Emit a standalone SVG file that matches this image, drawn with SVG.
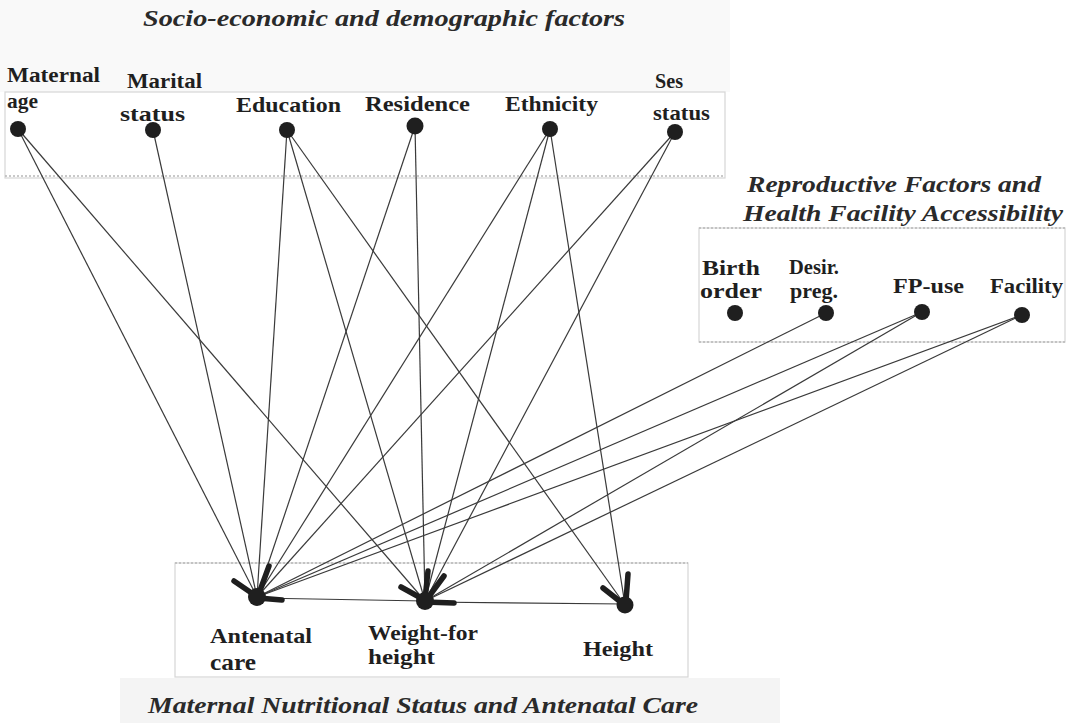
<svg xmlns="http://www.w3.org/2000/svg" width="1070" height="723" viewBox="0 0 1070 723">
<style>
.bg{fill:#ffffff}
.box{fill:#ffffff;stroke:#d6d6d6;stroke-width:1.2}
.dot{stroke:#b8b8b8;stroke-width:1.5;stroke-dasharray:2 2;fill:none}
.edge{stroke:#3a3a3a;stroke-width:1.2;fill:none}
.head{stroke:#1e1e1e;stroke-width:5.5;stroke-linecap:round;fill:none}
.node{fill:#1f1f1f}
.lbl{font-family:"Liberation Serif","Times New Roman",serif;font-weight:bold;fill:#1f1f1f}
.ttl{font-family:"Liberation Serif","Times New Roman",serif;font-weight:bold;font-style:italic;fill:#2a2a2a}
</style>
<rect class="bg" x="0" y="0" width="1070" height="723"/>
<rect x="0" y="0" width="730" height="92" fill="#f9f9f9"/>
<rect x="120" y="678" width="660" height="45" fill="#f4f4f4"/>

<g id="group-socio">
  <rect class="box" x="5" y="92" width="720" height="86"/>
  <line class="dot" x1="5" y1="176" x2="725" y2="176"/>
  <text class="ttl" x="143" y="26" font-size="24" textLength="482" lengthAdjust="spacingAndGlyphs">Socio-economic and demographic factors</text>
</g>
<g id="group-repro">
  <rect class="box" x="699" y="228" width="366" height="114"/>
  <line class="dot" x1="699" y1="228" x2="1065" y2="228"/>
  <line class="dot" x1="699" y1="342" x2="1065" y2="342"/>
  <text class="ttl" x="747" y="192" font-size="23" textLength="294" lengthAdjust="spacingAndGlyphs">Reproductive Factors and</text>
  <text class="ttl" x="743" y="221" font-size="23" textLength="320" lengthAdjust="spacingAndGlyphs">Health Facility Accessibility</text>
</g>
<g id="group-outcome">
  <rect class="box" x="175" y="563" width="513" height="114"/>
  <line class="dot" x1="175" y1="563" x2="688" y2="563"/>
  <text class="ttl" x="148" y="713" font-size="24" textLength="550" lengthAdjust="spacingAndGlyphs">Maternal Nutritional Status and Antenatal Care</text>
</g>

<g id="connectors">
  <line class="edge" x1="18" y1="129" x2="257" y2="597"/>
  <line class="edge" x1="18" y1="129" x2="425" y2="601"/>
  <line class="edge" x1="153" y1="130" x2="257" y2="597"/>
  <line class="edge" x1="287" y1="130" x2="257" y2="597"/>
  <line class="edge" x1="287" y1="130" x2="425" y2="601"/>
  <line class="edge" x1="287" y1="130" x2="625" y2="605"/>
  <line class="edge" x1="415" y1="126" x2="257" y2="597"/>
  <line class="edge" x1="415" y1="126" x2="425" y2="601"/>
  <line class="edge" x1="550" y1="129" x2="257" y2="597"/>
  <line class="edge" x1="550" y1="129" x2="425" y2="601"/>
  <line class="edge" x1="550" y1="129" x2="625" y2="605"/>
  <line class="edge" x1="675" y1="132" x2="257" y2="597"/>
  <line class="edge" x1="675" y1="132" x2="425" y2="601"/>
  <line class="edge" x1="826" y1="313" x2="257" y2="597"/>
  <line class="edge" x1="922" y1="312" x2="257" y2="597"/>
  <line class="edge" x1="922" y1="312" x2="425" y2="601"/>
  <line class="edge" x1="1022" y1="315" x2="257" y2="597"/>
  <line class="edge" x1="1022" y1="315" x2="425" y2="601"/>
  <line class="edge" x1="625" y1="604" x2="425" y2="602"/>
  <line class="edge" x1="425" y1="601" x2="257" y2="598"/>
  <g id="arrowheads">
    <line class="head" x1="234" y1="581" x2="256" y2="596"/>
    <line class="head" x1="269" y1="566" x2="258" y2="596"/>
    <line class="head" x1="258" y1="598" x2="282" y2="600"/>
    <line class="head" x1="401" y1="587" x2="421" y2="598"/>
    <line class="head" x1="428" y1="571" x2="425" y2="599"/>
    <line class="head" x1="444" y1="576" x2="430" y2="595"/>
    <line class="head" x1="425" y1="602" x2="454" y2="603"/>
    <line class="head" x1="603" y1="588" x2="622" y2="603"/>
    <line class="head" x1="628" y1="574" x2="626" y2="601"/>
  </g>
</g>

<g id="node-maternal-age">
  <circle class="node" cx="18" cy="129" r="8"/>
  <text class="lbl" x="7" y="82" font-size="20" textLength="93" lengthAdjust="spacingAndGlyphs">Maternal</text>
  <text class="lbl" x="7" y="108" font-size="22" textLength="31" lengthAdjust="spacingAndGlyphs">age</text>
</g>
<g id="node-marital-status">
  <circle class="node" cx="153" cy="130" r="8"/>
  <text class="lbl" x="127" y="88" font-size="20" textLength="75" lengthAdjust="spacingAndGlyphs">Marital</text>
  <text class="lbl" x="120" y="121" font-size="21" textLength="65" lengthAdjust="spacingAndGlyphs">status</text>
</g>
<g id="node-education">
  <circle class="node" cx="287" cy="130" r="8"/>
  <text class="lbl" x="236" y="112" font-size="21" textLength="105" lengthAdjust="spacingAndGlyphs">Education</text>
</g>
<g id="node-residence">
  <circle class="node" cx="415" cy="126" r="8.5"/>
  <text class="lbl" x="365" y="111" font-size="21" textLength="105" lengthAdjust="spacingAndGlyphs">Residence</text>
</g>
<g id="node-ethnicity">
  <circle class="node" cx="550" cy="129" r="8"/>
  <text class="lbl" x="505" y="111" font-size="21" textLength="93" lengthAdjust="spacingAndGlyphs">Ethnicity</text>
</g>
<g id="node-ses-status">
  <circle class="node" cx="675" cy="132" r="8"/>
  <text class="lbl" x="655" y="88" font-size="21" textLength="28" lengthAdjust="spacingAndGlyphs">Ses</text>
  <text class="lbl" x="653" y="120" font-size="21" textLength="57" lengthAdjust="spacingAndGlyphs">status</text>
</g>
<g id="node-birth-order">
  <circle class="node" cx="735" cy="313" r="8"/>
  <text class="lbl" x="702" y="275" font-size="20" textLength="58" lengthAdjust="spacingAndGlyphs">Birth</text>
  <text class="lbl" x="700" y="298" font-size="21" textLength="62" lengthAdjust="spacingAndGlyphs">order</text>
</g>
<g id="node-desir-preg">
  <circle class="node" cx="826" cy="313" r="8"/>
  <text class="lbl" x="789" y="274" font-size="20" textLength="50" lengthAdjust="spacingAndGlyphs">Desir.</text>
  <text class="lbl" x="790" y="298" font-size="21" textLength="48" lengthAdjust="spacingAndGlyphs">preg.</text>
</g>
<g id="node-fp-use">
  <circle class="node" cx="922" cy="312" r="8"/>
  <text class="lbl" x="893" y="293" font-size="20" textLength="71" lengthAdjust="spacingAndGlyphs">FP-use</text>
</g>
<g id="node-facility">
  <circle class="node" cx="1022" cy="315" r="8"/>
  <text class="lbl" x="990" y="293" font-size="20" textLength="73" lengthAdjust="spacingAndGlyphs">Facility</text>
</g>
<g id="node-antenatal-care">
  <circle class="node" cx="257" cy="597" r="9"/>
  <text class="lbl" x="210" y="643" font-size="22" textLength="102" lengthAdjust="spacingAndGlyphs">Antenatal</text>
  <text class="lbl" x="210" y="670" font-size="23" textLength="46" lengthAdjust="spacingAndGlyphs">care</text>
</g>
<g id="node-weight-for-height">
  <circle class="node" cx="425" cy="601" r="9"/>
  <text class="lbl" x="368" y="640" font-size="22" textLength="110" lengthAdjust="spacingAndGlyphs">Weight-for</text>
  <text class="lbl" x="368" y="664" font-size="22" textLength="67" lengthAdjust="spacingAndGlyphs">height</text>
</g>
<g id="node-height">
  <circle class="node" cx="625" cy="605" r="8.5"/>
  <text class="lbl" x="583" y="656" font-size="22" textLength="70" lengthAdjust="spacingAndGlyphs">Height</text>
</g>
</svg>
